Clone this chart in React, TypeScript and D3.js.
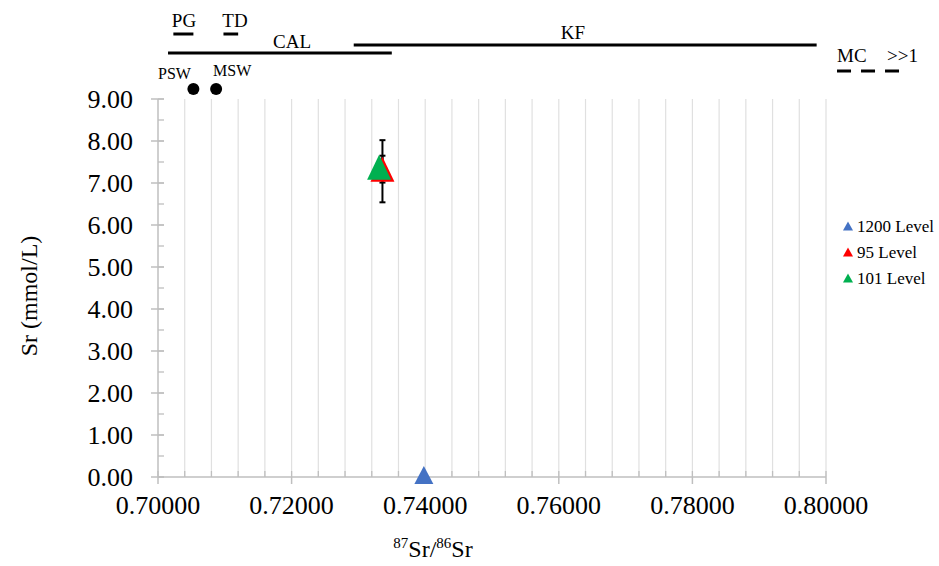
import React from "react";
import * as d3 from "d3";

const W = 939;
const H = 566;

// Data
const seriesNames = ["1200 Level", "95 Level", "101 Level"];
const seriesColors = ["#4472C4", "#FF0000", "#00B050"];
const seriesX = [0.7398, 0.7336, 0.7331];
const seriesY = [0.0, 7.28, 7.33];
const seriesErr = [0, 0.74, 0.32];

const seawaterNames = ["PSW", "MSW"];
const seawaterX = [0.7053, 0.7087];
const seawaterY = [9.24, 9.24];

const rangeNames = ["PG", "TD", "CAL", "KF"];
const rangeStart = [0.7023, 0.7098, 0.7015, 0.7293];
const rangeEnd = [0.7053, 0.712, 0.735, 0.7986];
const mcRange = [0.80165, 0.81095];

const xTicks = [0.7, 0.72, 0.74, 0.76, 0.78, 0.8];
const yTicks = [0, 1, 2, 3, 4, 5, 6, 7, 8, 9];

export default function App() {
  const x = d3.scaleLinear().domain([0.7, 0.8]).range([158, 826]);
  const y = d3.scaleLinear().domain([0, 9]).range([477, 99]);

  const minorX = d3.range(0, 26).map((i) => 0.7 + i * 0.004);
  const minorY = d3.range(0, 19).map((i) => i * 0.5);

  const serif = "'Liberation Serif', 'Times New Roman', serif";
  const axisColor = "#bfbfbf";
  const gridColor = "#e0e0e0";

  const tri = (cx: number, cy: number, w: number, h: number) =>
    `M${cx},${cy - h / 2}L${cx + w / 2},${cy + h / 2}L${cx - w / 2},${cy + h / 2}Z`;

  const rangeY = [34, 34, 53, 45];
  const rangeLabelX = [184, 235, 292, 573];
  const rangeLabelY = [27, 27, 48, 39];

  return (
    <svg width={W} height={H} style={{ position: "absolute", left: 0, top: 0, background: "#fff" }} fontFamily={serif}>
      {/* gridlines */}
      {minorX.slice(1).map((v, i) => (
        <line key={"g" + i} x1={x(v)} x2={x(v)} y1={y(9)} y2={y(0)} stroke={gridColor} strokeWidth={1.2} />
      ))}
      {/* x axis */}
      <line x1={x(0.7)} x2={x(0.8)} y1={y(0)} y2={y(0)} stroke={axisColor} strokeWidth={1.5} />
      {minorX.map((v, i) => (
        <line key={"mx" + i} x1={x(v)} x2={x(v)} y1={y(0) - 6} y2={y(0)} stroke={axisColor} strokeWidth={1.3} />
      ))}
      {xTicks.map((v, i) => (
        <g key={"xt" + i}>
          <line x1={x(v)} x2={x(v)} y1={y(0)} y2={y(0) + 7} stroke={axisColor} strokeWidth={1.5} />
          <text x={x(v)} y={514} textAnchor="middle" fontSize={26} fill="#000">
            {v.toFixed(5)}
          </text>
        </g>
      ))}
      {/* y axis */}
      <line x1={x(0.7)} x2={x(0.7)} y1={y(9)} y2={y(0)} stroke={axisColor} strokeWidth={1.5} />
      {minorY.map((v, i) => (
        <line key={"my" + i} x1={x(0.7)} x2={x(0.7) + 6} y1={y(v)} y2={y(v)} stroke={axisColor} strokeWidth={1.3} />
      ))}
      {yTicks.map((v, i) => (
        <g key={"yt" + i}>
          <line x1={x(0.7) - 7} x2={x(0.7) + 6} y1={y(v)} y2={y(v)} stroke={axisColor} strokeWidth={1.5} />
          <text x={133} y={y(v)} textAnchor="end" dominantBaseline="central" fontSize={26} fill="#000">
            {v.toFixed(2)}
          </text>
        </g>
      ))}
      {/* axis titles */}
      <text x={433} y={557} textAnchor="middle" fontSize={24} fill="#000">
        <tspan fontSize={15} dy={-9}>87</tspan>
        <tspan dy={9}>Sr/</tspan>
        <tspan fontSize={15} dy={-9}>86</tspan>
        <tspan dy={9}>Sr</tspan>
      </text>
      <text transform="translate(29,296) rotate(-90)" textAnchor="middle" dominantBaseline="central" fontSize={24} fill="#000">
        Sr (mmol/L)
      </text>

      {/* range bars on top */}
      {rangeNames.map((n, i) => (
        <g key={"r" + i}>
          <line x1={x(rangeStart[i])} x2={x(rangeEnd[i])} y1={rangeY[i]} y2={rangeY[i]} stroke="#000" strokeWidth={3} />
          <text x={rangeLabelX[i]} y={rangeLabelY[i]} textAnchor="middle" fontSize={19} fill="#000">
            {n}
          </text>
        </g>
      ))}
      <line x1={x(mcRange[0])} x2={x(mcRange[1])} y1={71} y2={71} stroke="#000" strokeWidth={3} strokeDasharray="14 10" />
      <text x={837} y={62} fontSize={19} fill="#000">MC</text>
      <text x={887} y={62} fontSize={19} fill="#000">&gt;&gt;1</text>

      {/* seawater points */}
      {seawaterNames.map((n, i) => (
        <g key={"s" + i}>
          <circle cx={x(seawaterX[i])} cy={y(seawaterY[i])} r={6} fill="#000" />
        </g>
      ))}
      <text x={158} y={79} fontSize={16} fill="#000">{seawaterNames[0]}</text>
      <text x={213} y={76} fontSize={16} fill="#000">{seawaterNames[1]}</text>

      {/* error bars */}
      {seriesNames.map((n, i) =>
        seriesErr[i] > 0 ? (
          <g key={"e" + i} stroke="#000" strokeWidth={2}>
            <line x1={x(seriesX[1])} x2={x(seriesX[1])} y1={y(seriesY[i] + seriesErr[i])} y2={y(seriesY[i] - seriesErr[i])} />
            <line x1={x(seriesX[1]) - 3} x2={x(seriesX[1]) + 3} y1={y(seriesY[i] + seriesErr[i])} y2={y(seriesY[i] + seriesErr[i])} />
            <line x1={x(seriesX[1]) - 3} x2={x(seriesX[1]) + 3} y1={y(seriesY[i] - seriesErr[i])} y2={y(seriesY[i] - seriesErr[i])} />
          </g>
        ) : null
      )}
      {/* markers */}
      {seriesNames.map((n, i) => (
        <path key={"m" + i} d={tri(x(seriesX[i]), y(seriesY[i]) - 2, i === 0 ? 19 : 24, i === 0 ? 18 : 25)} fill={seriesColors[i]} />
      ))}

      {/* legend */}
      {seriesNames.map((n, i) => (
        <g key={"l" + i}>
          <path d={tri(848, 226 + i * 26, 10, 9)} fill={seriesColors[i]} />
          <text x={857} y={226 + i * 26} dominantBaseline="central" fontSize={17} fill="#000">
            {n}
          </text>
        </g>
      ))}
    </svg>
  );
}
